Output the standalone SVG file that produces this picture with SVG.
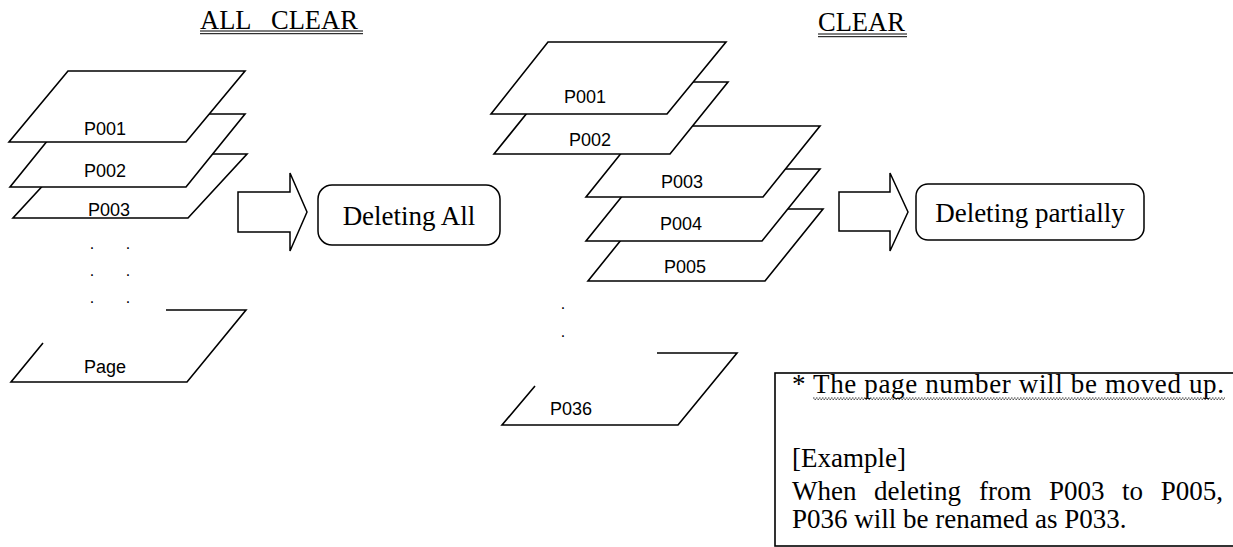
<svg xmlns="http://www.w3.org/2000/svg" width="1233" height="547" viewBox="0 0 1233 547">
<style>
.sheet{fill:#fff;stroke:#000;stroke-width:1.6;stroke-linejoin:miter}
.open{fill:none;stroke:#000;stroke-width:1.6}
.lbl{font-family:"Liberation Sans",Arial,sans-serif;font-size:18px;fill:#000;text-anchor:middle}
.dot{font-family:"Liberation Sans",Arial,sans-serif;font-size:16px;fill:#000;text-anchor:middle}
.serif{font-family:"Liberation Serif","Times New Roman",serif;font-size:27px;fill:#000}
.title{font-family:"Liberation Serif","Times New Roman",serif;font-size:26.5px;fill:#000}
.box{fill:#fff;stroke:#000;stroke-width:1.5}
.arrow{fill:#fff;stroke:#000;stroke-width:1.5;stroke-linejoin:miter}
.ul{stroke:#000;stroke-width:1}
.wavy{stroke:#333;stroke-width:1;stroke-dasharray:1.5 1.5}
</style>

<g id="title-all-clear">
<text class="title" x="200" y="28.5">ALL</text>
<text class="title" x="271" y="28.5">CLEAR</text>
<line class="ul" x1="200" y1="31" x2="363" y2="31"/>
<line class="ul" x1="200" y1="33.7" x2="363" y2="33.7"/>
</g>

<g id="title-clear">
<text class="title" x="818" y="31">CLEAR</text>
<line class="ul" x1="818" y1="34" x2="907" y2="34"/>
<line class="ul" x1="818" y1="36.7" x2="907" y2="36.7"/>
</g>

<!-- left stack -->
<g id="left-p003">
<polygon class="sheet" points="72,154 247,154 188,218 13,218"/>
<text class="lbl" x="109" y="216">P003</text>
</g>
<g id="left-p002">
<polygon class="sheet" points="69,114 245,114 186,187 10,187"/>
<text class="lbl" x="105" y="177">P002</text>
</g>
<g id="left-p001">
<polygon class="sheet" points="68,71 245,71 186,142 9,142"/>
<text class="lbl" x="105" y="135">P001</text>
</g>
<g id="left-dots">
<text class="dot" x="92" y="249">.</text>
<text class="dot" x="128" y="249">.</text>
<text class="dot" x="92" y="276">.</text>
<text class="dot" x="128" y="276">.</text>
<text class="dot" x="92" y="303">.</text>
<text class="dot" x="128" y="303">.</text>
</g>
<g id="left-page">
<polyline class="open" points="166,310 246,310 187,382 11,382 43,343"/>
<text class="lbl" x="105" y="373">Page</text>
</g>

<!-- middle stack -->
<g id="mid-p005">
<polygon class="sheet" points="646,209 823,209 765,281 588,281"/>
<text class="lbl" x="685" y="273">P005</text>
</g>
<g id="mid-p004">
<polygon class="sheet" points="644,169 820,169 762,241 586,241"/>
<text class="lbl" x="681" y="230">P004</text>
</g>
<g id="mid-p003">
<polygon class="sheet" points="643,126 820,126 763,197 586,197"/>
<text class="lbl" x="682" y="188">P003</text>
</g>
<g id="mid-p002">
<polygon class="sheet" points="552,82 728,82 670,154 494,154"/>
<text class="lbl" x="590" y="146">P002</text>
</g>
<g id="mid-p001">
<polygon class="sheet" points="548,42 726,42 667,114 491,114"/>
<text class="lbl" x="585" y="103">P001</text>
</g>
<g id="mid-dots">
<text class="dot" x="563" y="309">.</text>
<text class="dot" x="563" y="337">.</text>
</g>
<g id="mid-p036">
<polyline class="open" points="657,353 737,353 678,425 502,425 535,386"/>
<text class="lbl" x="571" y="415">P036</text>
</g>

<g id="connectors">
<polygon id="arrow-all" class="arrow" points="238,192 290,192 290,173 307,212 290,251 290,232 238,232"/>
<polygon id="arrow-partial" class="arrow" points="839,192 890,192 890,173 908,212 890,251 890,231 839,231"/>
</g>

<g id="box-deleting-all">
<rect class="box" x="318" y="185" width="182" height="60" rx="14" ry="14"/>
<text class="serif" x="409" y="225" text-anchor="middle">Deleting All</text>
</g>
<g id="box-deleting-partially">
<rect class="box" x="916" y="184" width="228" height="56" rx="12" ry="12"/>
<text class="serif" x="1030" y="222" text-anchor="middle">Deleting partially</text>
</g>

<g id="note">
<rect x="775" y="373" width="480" height="173" fill="#fff" stroke="#000" stroke-width="1.6"/>
<text class="serif" y="393"><tspan x="792">*</tspan><tspan x="813" textLength="411" lengthAdjust="spacing">The page number will be moved up.</tspan></text>
<line class="wavy" x1="813" y1="398" x2="1225" y2="398"/>
<line class="wavy" x1="814.5" y1="399.3" x2="1225" y2="399.3"/>
<text class="serif" x="792" y="467">[Example]</text>
<text class="serif" y="500"><tspan x="792">When</tspan><tspan x="874">deleting</tspan><tspan x="979">from</tspan><tspan x="1049">P003</tspan><tspan x="1122">to</tspan><tspan x="1223" text-anchor="end">P005,</tspan></text>
<text class="serif" x="792" y="528">P036 will be renamed as P033.</text>
</g>
</svg>
